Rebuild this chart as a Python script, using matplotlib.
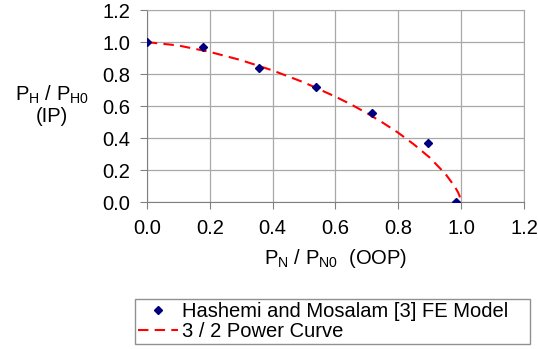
import matplotlib
matplotlib.use("Agg")
import matplotlib.pyplot as plt

# FE model points
fe_x = [0.0, 0.18, 0.358, 0.537, 0.716, 0.893, 0.983]
fe_y = [1.0, 0.97, 0.84, 0.72, 0.556, 0.367, 0.0]

# 3/2 power curve, sampled
curve_x = [0.0, 0.1, 0.2, 0.3, 0.4, 0.5, 0.6, 0.65, 0.7, 0.75, 0.8, 0.85, 0.9, 0.95, 0.98, 0.99, 0.995, 1.0]
curve_y = [1.0, 0.979, 0.939, 0.887, 0.823, 0.748, 0.659, 0.610, 0.556, 0.497, 0.433, 0.360, 0.278, 0.176, 0.096, 0.061, 0.038, 0.0]

ticks = [0.0, 0.2, 0.4, 0.6, 0.8, 1.0, 1.2]
tick_labels = ["0.0", "0.2", "0.4", "0.6", "0.8", "1.0", "1.2"]

plt.rcParams['font.family'] = ['Liberation Sans', 'DejaVu Sans']
plt.rcParams['mathtext.default'] = 'regular'

fig = plt.figure(figsize=(5.38, 3.49), dpi=100)
ax = fig.add_axes([0.273, 0.421, 0.701, 0.55])

ax.plot(fe_x, fe_y, linestyle='none', marker='D', markersize=4.5,
        color='#00007f', label='Hashemi and Mosalam [3] FE Model', zorder=4)
ax.plot(curve_x, curve_y, linestyle=(0, (5, 3)), color='#ff0000', linewidth=1.5,
        label='3 / 2 Power Curve', zorder=3)

ax.set_xlim(0, 1.2)
ax.set_ylim(0, 1.2)
ax.set_xticks(ticks)
ax.set_xticklabels(tick_labels)
ax.set_yticks(ticks)
ax.set_yticklabels(tick_labels)
ax.grid(True, color='#a8a8a8', linewidth=0.9)
ax.set_axisbelow(True)
ax.tick_params(labelsize=14.5, length=5, color='#808080', pad=7)
for side in ['left', 'bottom']:
    ax.spines[side].set_color('#808080')
for side in ['top', 'right']:
    ax.spines[side].set_color('#a8a8a8')

ax.set_xlabel('P$_N$ / P$_{N0}$  (OOP)', fontsize=14.5, labelpad=7)
fig.text(52 / 538, 1 - 105 / 349, 'P$_H$ / P$_{H0}$\n(IP)', fontsize=14.5,
         ha='center', va='center', linespacing=1.1)

fig.legend(loc='lower left', bbox_to_anchor=(135 / 538, 5 / 349, 395 / 538, 49 / 349),
           mode='expand', fontsize=14.5, frameon=True, fancybox=False,
           edgecolor='#909090', framealpha=1, borderpad=0.15, labelspacing=0.05,
           handlelength=2.0, handletextpad=0.2, borderaxespad=0)

fig.savefig('out.png', dpi=100)
